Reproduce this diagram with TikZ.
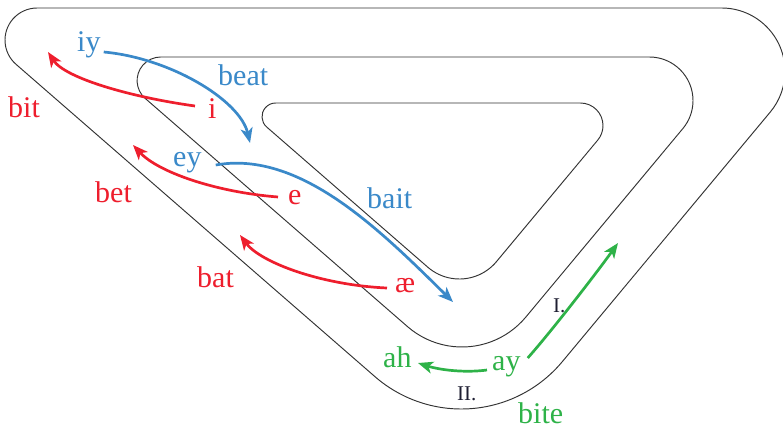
\documentclass[tikz,border=0pt]{standalone}
\usepackage{fontspec}
\setmainfont{Liberation Serif}
\usetikzlibrary{calc,arrows.meta}
\definecolor{cred}{RGB}{238,30,45}
\definecolor{cblue}{RGB}{58,137,201}
\definecolor{cgreen}{RGB}{46,178,72}
\definecolor{cdark}{RGB}{30,30,50}
\begin{document}
\begin{tikzpicture}[x=1pt,y=-1pt,
  track/.style={draw=black!80,line width=0.95pt},
  lab/.style={inner sep=0pt,anchor=base west,font=\fontsize{30}{36}\selectfont},
  small/.style={inner sep=0pt,anchor=base west,font=\fontsize{21}{24}\selectfont,text=cdark},
  arr/.style={line width=2.7pt,-{Stealth[length=15pt,width=12pt,inset=4pt]}}]
\useasboundingbox (0,0) rectangle (783,428);
% outer track
\coordinate (oTL) at (37.1,40.1);
\coordinate (oB) at (461.3,277.6);
\draw[track] (37.1,8) -- (721.6,8) arc[start angle=-90,end angle=39.81,radius=63.4]
  -- ($(oB)+(39.81:131.4)$) arc[start angle=39.81,end angle=131.02,radius=131.4]
  -- ($(oTL)+(131.02:32.1)$) arc[start angle=131.02,end angle=270,radius=32.1] -- cycle;
% middle track
\coordinate (mTL) at (160.7,80.6);
\coordinate (mB) at (462,264);
\draw[track] (160.7,57) -- (649.4,57) arc[start angle=-90,end angle=39.81,radius=43.6]
  -- ($(mB)+(39.81:83)$) arc[start angle=39.81,end angle=131.02,radius=83]
  -- ($(mTL)+(131.02:23.6)$) arc[start angle=131.02,end angle=270,radius=23.6] -- cycle;
% inner track
\coordinate (nTL) at (275.7,116.7);
\coordinate (nB) at (459.4,230.8);
\draw[track] (275.7,103) -- (580.4,103) arc[start angle=-90,end angle=39.81,radius=22.6]
  -- ($(nB)+(39.81:48.2)$) arc[start angle=39.81,end angle=131.02,radius=48.2]
  -- ($(nTL)+(131.02:13.7)$) arc[start angle=131.02,end angle=270,radius=13.7] -- cycle;
% labels
\node[lab,text=cblue] (iy) at (77,52) {iy};
\node[lab,text=cblue] (beat) at (218,85) {beat};
\node[lab,text=cred] (i) at (208,118) {i};
\node[lab,text=cred] (bit) at (8,117) {bit};
\node[lab,text=cblue] (ey) at (173,166) {ey};
\node[lab,text=cred] (e) at (288,204) {e};
\node[lab,text=cred] (bet) at (95,202) {bet};
\node[lab,text=cblue] (bait) at (367,208) {bait};
\node[lab,text=cred] (bat) at (197,287) {bat};
\node[lab,text=cred] (ae) at (395,292) {æ};
\node[lab,text=cgreen] (ah) at (383,367) {ah};
\node[lab,text=cgreen] (ay) at (492,370) {ay};
\node[small] (II) at (457,400) {II.};
\node[small] (I) at (553,312) {I.};
\node[lab,text=cgreen] (bite) at (518,423) {bite};
% arrows
\coordinate (bitTip) at (48,52);
\coordinate (betTip) at (133,145);
\coordinate (batTip) at (240,235);
\coordinate (beatTip) at (250,143);
\coordinate (baitTip) at (453,302);
\coordinate (ITip) at (618,243);
\coordinate (ahTip) at (418,363);
\draw[arr,cred] ([xshift=-13pt,yshift=12pt]i.base west) .. controls (130,97) and (65,78) .. (bitTip);
\draw[arr,cred] ([xshift=-10pt,yshift=7pt]e.base west) .. controls (215,192) and (158,172) .. (betTip);
\draw[arr,cred] ([xshift=-8pt,yshift=4pt]ae.base west) .. controls (320,285) and (260,262) .. (batTip);
\draw[arr,cblue] ([xshift=3pt]iy.base east) .. controls (170,58) and (240,100) .. (beatTip);
\draw[arr,cblue] ([xshift=14pt,yshift=1pt]ey.base east) .. controls (300,150) and (380,230) .. (baitTip);
\draw[arr,cgreen] ([xshift=7pt,yshift=12pt]ay.base east) .. controls (550,333) and (595,275) .. (ITip);
\draw[arr,cgreen] ([xshift=-5pt]ay.base west) .. controls (465,373) and (440,370) .. (ahTip);
\end{tikzpicture}
\end{document}
